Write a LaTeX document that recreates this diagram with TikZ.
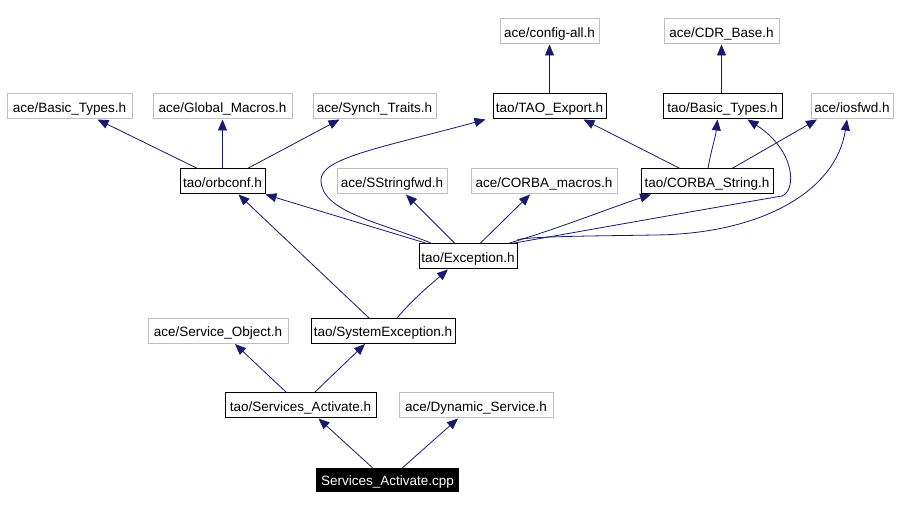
\documentclass[tikz,border=0pt]{standalone}
\usepackage{fontspec}
\setmainfont{Liberation Sans}
\usetikzlibrary{arrows.meta}
\definecolor{edgeblue}{HTML}{191970}
\definecolor{boxgray}{HTML}{BFBFBF}
\tikzset{
  lbl/.style={inner sep=0pt, text height=13.6pt, text depth=2pt, font=\fontsize{13.5}{15}\selectfont},
  hdr/.style={lbl, draw=black, line width=1pt, minimum height=25pt},
  ext/.style={lbl, draw=boxgray, line width=1pt, minimum height=25pt},
  src/.style={lbl, fill=black, text=white, minimum height=24pt},
  dep/.style={draw=edgeblue, line width=0.8pt, -{Triangle[length=11pt,width=9pt]}}
}
\begin{document}
\begin{tikzpicture}[x=1pt,y=-1pt]
\fill[white] (0,0) rectangle (900,510);
\useasboundingbox (0,0) rectangle (900,510);
% row 1
\node[ext, minimum width=99pt] (ca) at (549.5,31.5) {ace/config-all.h};
\node[ext, minimum width=115pt] (cdr) at (721.5,31.5) {ace/CDR\_Base.h};
% row 2
\node[ext, minimum width=125pt] (abt) at (69.5,106.5) {ace/Basic\_Types.h};
\node[ext, minimum width=139pt] (gm) at (222.5,106.5) {ace/Global\_Macros.h};
\node[ext, minimum width=123pt] (st) at (374.5,106.5) {ace/Synch\_Traits.h};
\node[hdr, minimum width=113pt] (tx) at (549.5,106.5) {tao/TAO\_Export.h};
\node[hdr, minimum width=119pt] (tbt) at (722.5,106.5) {tao/Basic\_Types.h};
\node[ext, minimum width=82pt] (ios) at (852,106.5) {ace/iosfwd.h};
% row 3
\node[hdr, minimum width=85pt] (orb) at (222.5,181.5) {tao/orbconf.h};
\node[ext, minimum width=110pt] (ssf) at (392,181.5) {ace/SStringfwd.h};
\node[ext, minimum width=146pt] (cm) at (544,181.5) {ace/CORBA\_macros.h};
\node[hdr, minimum width=132pt] (cs) at (707,181.5) {tao/CORBA\_String.h};
% row 4
\node[hdr, minimum width=98pt] (exc) at (468,256.5) {tao/Exception.h};
% row 5
\node[ext, minimum width=140pt] (so) at (218,331) {ace/Service\_Object.h};
\node[hdr, minimum width=144pt] (sys) at (383,331) {tao/SystemException.h};
% row 6
\node[hdr, minimum width=151pt] (sa) at (300.5,405.5) {tao/Services\_Activate.h};
\node[ext, minimum width=154pt] (ds) at (476,405.5) {ace/Dynamic\_Service.h};
% row 7
\node[src, minimum width=143pt] (cpp) at (387.5,480) {Services\_Activate.cpp};

% edges
\draw[dep] ([xshift=-25pt]orb.north) -- ([xshift=28pt]abt.south);
\draw[dep] (orb.north) -- (orb.north |- gm.south);
\draw[dep] ([xshift=25pt]orb.north) -- ([xshift=-35pt]st.south);
\draw[dep] (tx.north) -- (ca.south);
\draw[dep] ([xshift=-1pt]tbt.north) -- ([xshift=-1pt]tbt.north |- cdr.south);
\draw[dep] ([xshift=-27pt]cs.north) -- ([xshift=34pt]tx.south);
\draw[dep] ([xshift=1pt]cs.north) .. controls +(3,-18) and +(-2,18) .. ([xshift=-5pt]tbt.south);
\draw[dep] ([xshift=25pt]cs.north) -- ([xshift=-35pt]ios.south);
\draw[dep] ([xshift=-41pt]exc.north) -- ([xshift=43pt]orb.south);
\draw[dep] ([xshift=-36pt]exc.north) .. controls (380,222) and (321,212) .. (321,180)
  .. controls (321,158) and (380,148) .. ([xshift=-64pt]tx.south);
\draw[dep] ([xshift=-13pt]exc.north) -- ([xshift=14pt]ssf.south);
\draw[dep] ([xshift=12pt]exc.north) -- ([xshift=-14pt]cm.south);
\draw[dep] ([xshift=40pt]exc.north) .. controls (560,228) and (610,208) .. ([xshift=-56pt]cs.south);
\draw[dep] ([xshift=-6pt]exc.north east) .. controls (600,228) and (700,210) .. (782,196)
  .. controls (797,190) and (795,150) .. ([xshift=25pt]tbt.south);
\draw[dep] ([yshift=4pt]exc.north east) .. controls (540,236) and (600,236) .. (655,235)
  .. controls (760,234) and (836,192) .. ([xshift=-5pt]ios.south);
\draw[dep] ([xshift=-14pt]sys.north) -- ([xshift=16pt]orb.south);
\draw[dep] ([xshift=14pt]sys.north) .. controls (412,300) and (430,285) .. ([xshift=-20pt]exc.south);
\draw[dep] ([xshift=-14pt]sa.north) -- ([xshift=17pt]so.south);
\draw[dep] ([xshift=14pt]sa.north) -- ([xshift=-18pt]sys.south);
\draw[dep] ([xshift=-15pt]cpp.north) -- ([xshift=18pt]sa.south);
\draw[dep] ([xshift=15pt]cpp.north) -- ([xshift=-18pt]ds.south);
\end{tikzpicture}
\end{document}
